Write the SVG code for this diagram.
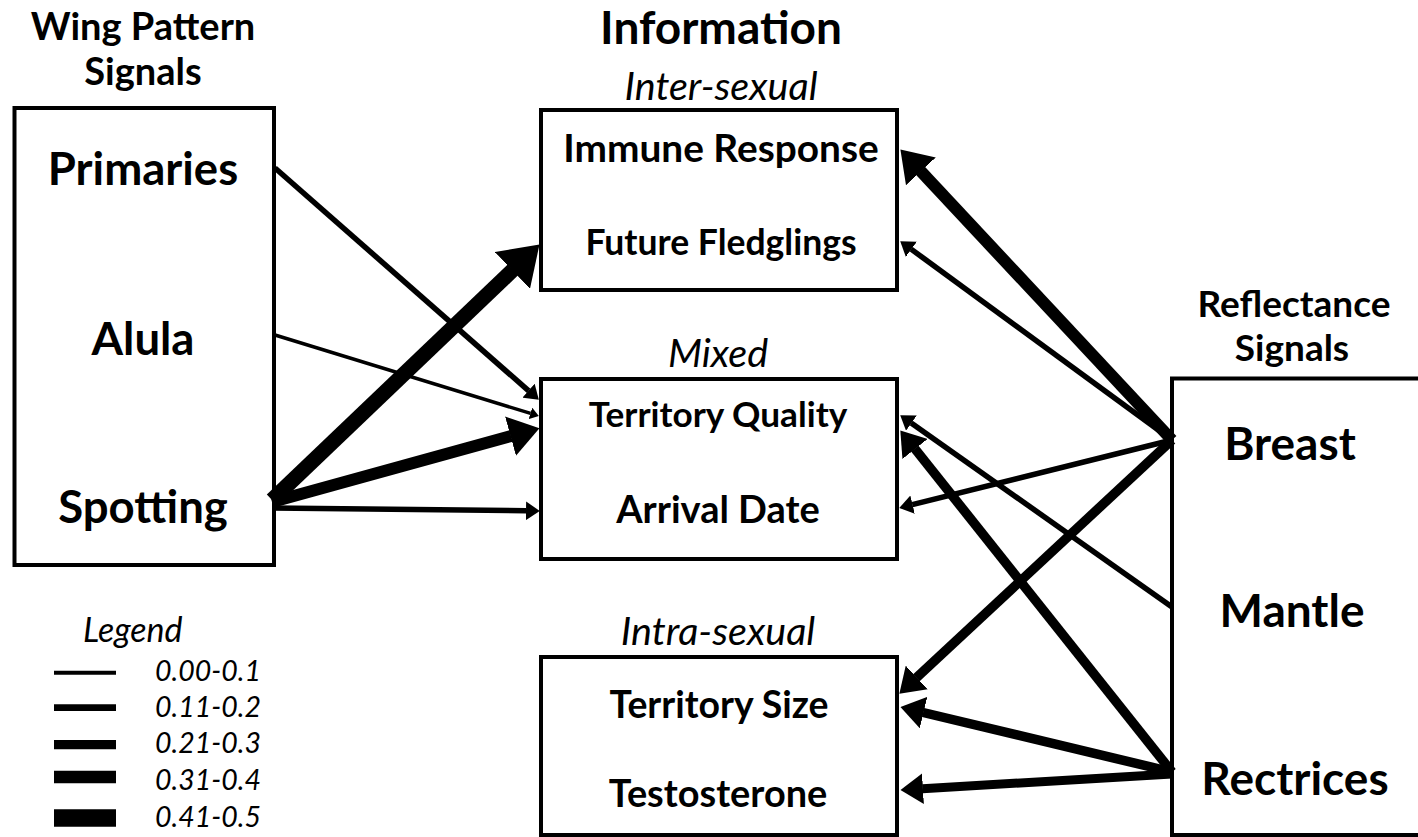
<svg xmlns="http://www.w3.org/2000/svg" width="1418" height="837" viewBox="0 0 1418 837">
<style>
.box{fill:#fff;stroke:#000;stroke-width:4}
.h{font-family:Lato,"Liberation Sans",sans-serif;font-weight:700;font-size:38px;text-anchor:middle;fill:#000}
.big{font-size:46px}
.info{font-family:Lato,"Liberation Sans",sans-serif;font-weight:700;font-size:38px;text-anchor:middle;fill:#000}
.cat{font-family:Lato,"Liberation Sans",sans-serif;font-style:italic;font-size:39.5px;text-anchor:middle;fill:#000}
.leg{font-family:Lato,"Liberation Sans",sans-serif;font-style:italic;font-size:28.5px;fill:#000}
.c{stroke:#000;fill:none;marker-end:url(#ah)}
.lg{stroke:#000}
</style>
<defs>
<marker id="ah" markerUnits="strokeWidth" viewBox="0 0 2.5 3.4" markerWidth="2.5" markerHeight="3.4" refX="0.05" refY="1.7" orient="auto">
<path d="M0,0 L2.5,1.7 L0,3.4 z" fill="#000"/>
</marker>
</defs>
<g id="headings">
<text class="h" x="143" y="40">Wing Pattern</text>
<text class="h" x="143" y="85">Signals</text>
<text class="h big" x="721" y="44">Information</text>
<text class="h" x="1294" y="317" style="font-size:37px">Reflectance</text>
<text class="h" x="1292" y="361" style="font-size:37px">Signals</text>
</g>
<g id="wing">
<rect class="box" x="14.5" y="108" width="259.5" height="457"/>
<text class="h big" x="143" y="185" style="font-size:45.5px">Primaries</text>
<text class="h big" x="143" y="355" style="font-size:45.5px">Alula</text>
<text class="h big" x="143" y="523" style="font-size:45.5px">Spotting</text>
</g>
<g id="inter">
<text class="cat" x="721" y="100">Inter-sexual</text>
<rect class="box" x="541" y="110" width="356" height="180"/>
<text class="info" x="721" y="162" style="font-size:38.8px">Immune Response</text>
<text class="info" x="721" y="255" style="font-size:35.5px">Future Fledglings</text>
</g>
<g id="mixed">
<text class="cat" x="718" y="367">Mixed</text>
<rect class="box" x="541" y="379" width="356" height="180"/>
<text class="info" x="718" y="427" style="font-size:35.2px">Territory Quality</text>
<text class="info" x="718" y="523">Arrival Date</text>
</g>
<g id="intra">
<text class="cat" x="718" y="645">Intra-sexual</text>
<rect class="box" x="541" y="657" width="356" height="178"/>
<text class="info" x="719" y="718" style="font-size:37.4px">Territory Size</text>
<text class="info" x="718" y="807" style="font-size:37.9px">Testosterone</text>
</g>
<g id="reflectance">
<rect class="box" x="1172" y="378.5" width="260" height="456.5"/>
<text class="h big" x="1290" y="460">Breast</text>
<text class="h big" x="1292" y="627">Mantle</text>
<text class="h big" x="1295" y="795">Rectrices</text>
</g>
<g id="legend">
<text class="leg" x="83" y="642" style="font-size:34px">Legend</text>
<line class="lg" x1="54" y1="672.7" x2="116" y2="672.7" stroke-width="4"/>
<line class="lg" x1="54" y1="707.7" x2="116" y2="707.7" stroke-width="6.7"/>
<line class="lg" x1="54" y1="744.7" x2="116" y2="744.7" stroke-width="9.3"/>
<line class="lg" x1="54" y1="777" x2="116" y2="777" stroke-width="12.7"/>
<line class="lg" x1="54" y1="818" x2="116" y2="818" stroke-width="17.3"/>
<text class="leg" x="155" y="681">0.00-0.1</text>
<text class="leg" x="155" y="717">0.11-0.2</text>
<text class="leg" x="155" y="753">0.21-0.3</text>
<text class="leg" x="155" y="790">0.31-0.4</text>
<text class="leg" x="155" y="827">0.41-0.5</text>
</g>
<g id="connectors">
<line class="c" x1="275" y1="168" x2="528.7" y2="390.9" stroke-width="5.5"/>
<line class="c" x1="275" y1="335" x2="530.6" y2="413.4" stroke-width="3.5"/>
<line class="c" x1="272" y1="500" x2="512.9" y2="269.9" stroke-width="15"/>
<line class="c" x1="272" y1="502" x2="511.1" y2="436" stroke-width="12"/>
<line class="c" x1="272" y1="508" x2="526.3" y2="510.8" stroke-width="5.5"/>
<line class="c" x1="1172" y1="440" x2="920.5" y2="170.9" stroke-width="12"/>
<line class="c" x1="1172" y1="440" x2="911.1" y2="249.1" stroke-width="5.5"/>
<line class="c" x1="1172" y1="440" x2="912.3" y2="504.7" stroke-width="5.5"/>
<line class="c" x1="1172" y1="440" x2="916.4" y2="677.8" stroke-width="9.5"/>
<line class="c" x1="1172" y1="607" x2="911.2" y2="422.9" stroke-width="5.5"/>
<line class="c" x1="1172" y1="772" x2="914.8" y2="448.6" stroke-width="9.5"/>
<line class="c" x1="1172" y1="772" x2="923.1" y2="712.5" stroke-width="9.5"/>
<line class="c" x1="1172" y1="774" x2="922.5" y2="788.7" stroke-width="9"/>
</g>
</svg>
